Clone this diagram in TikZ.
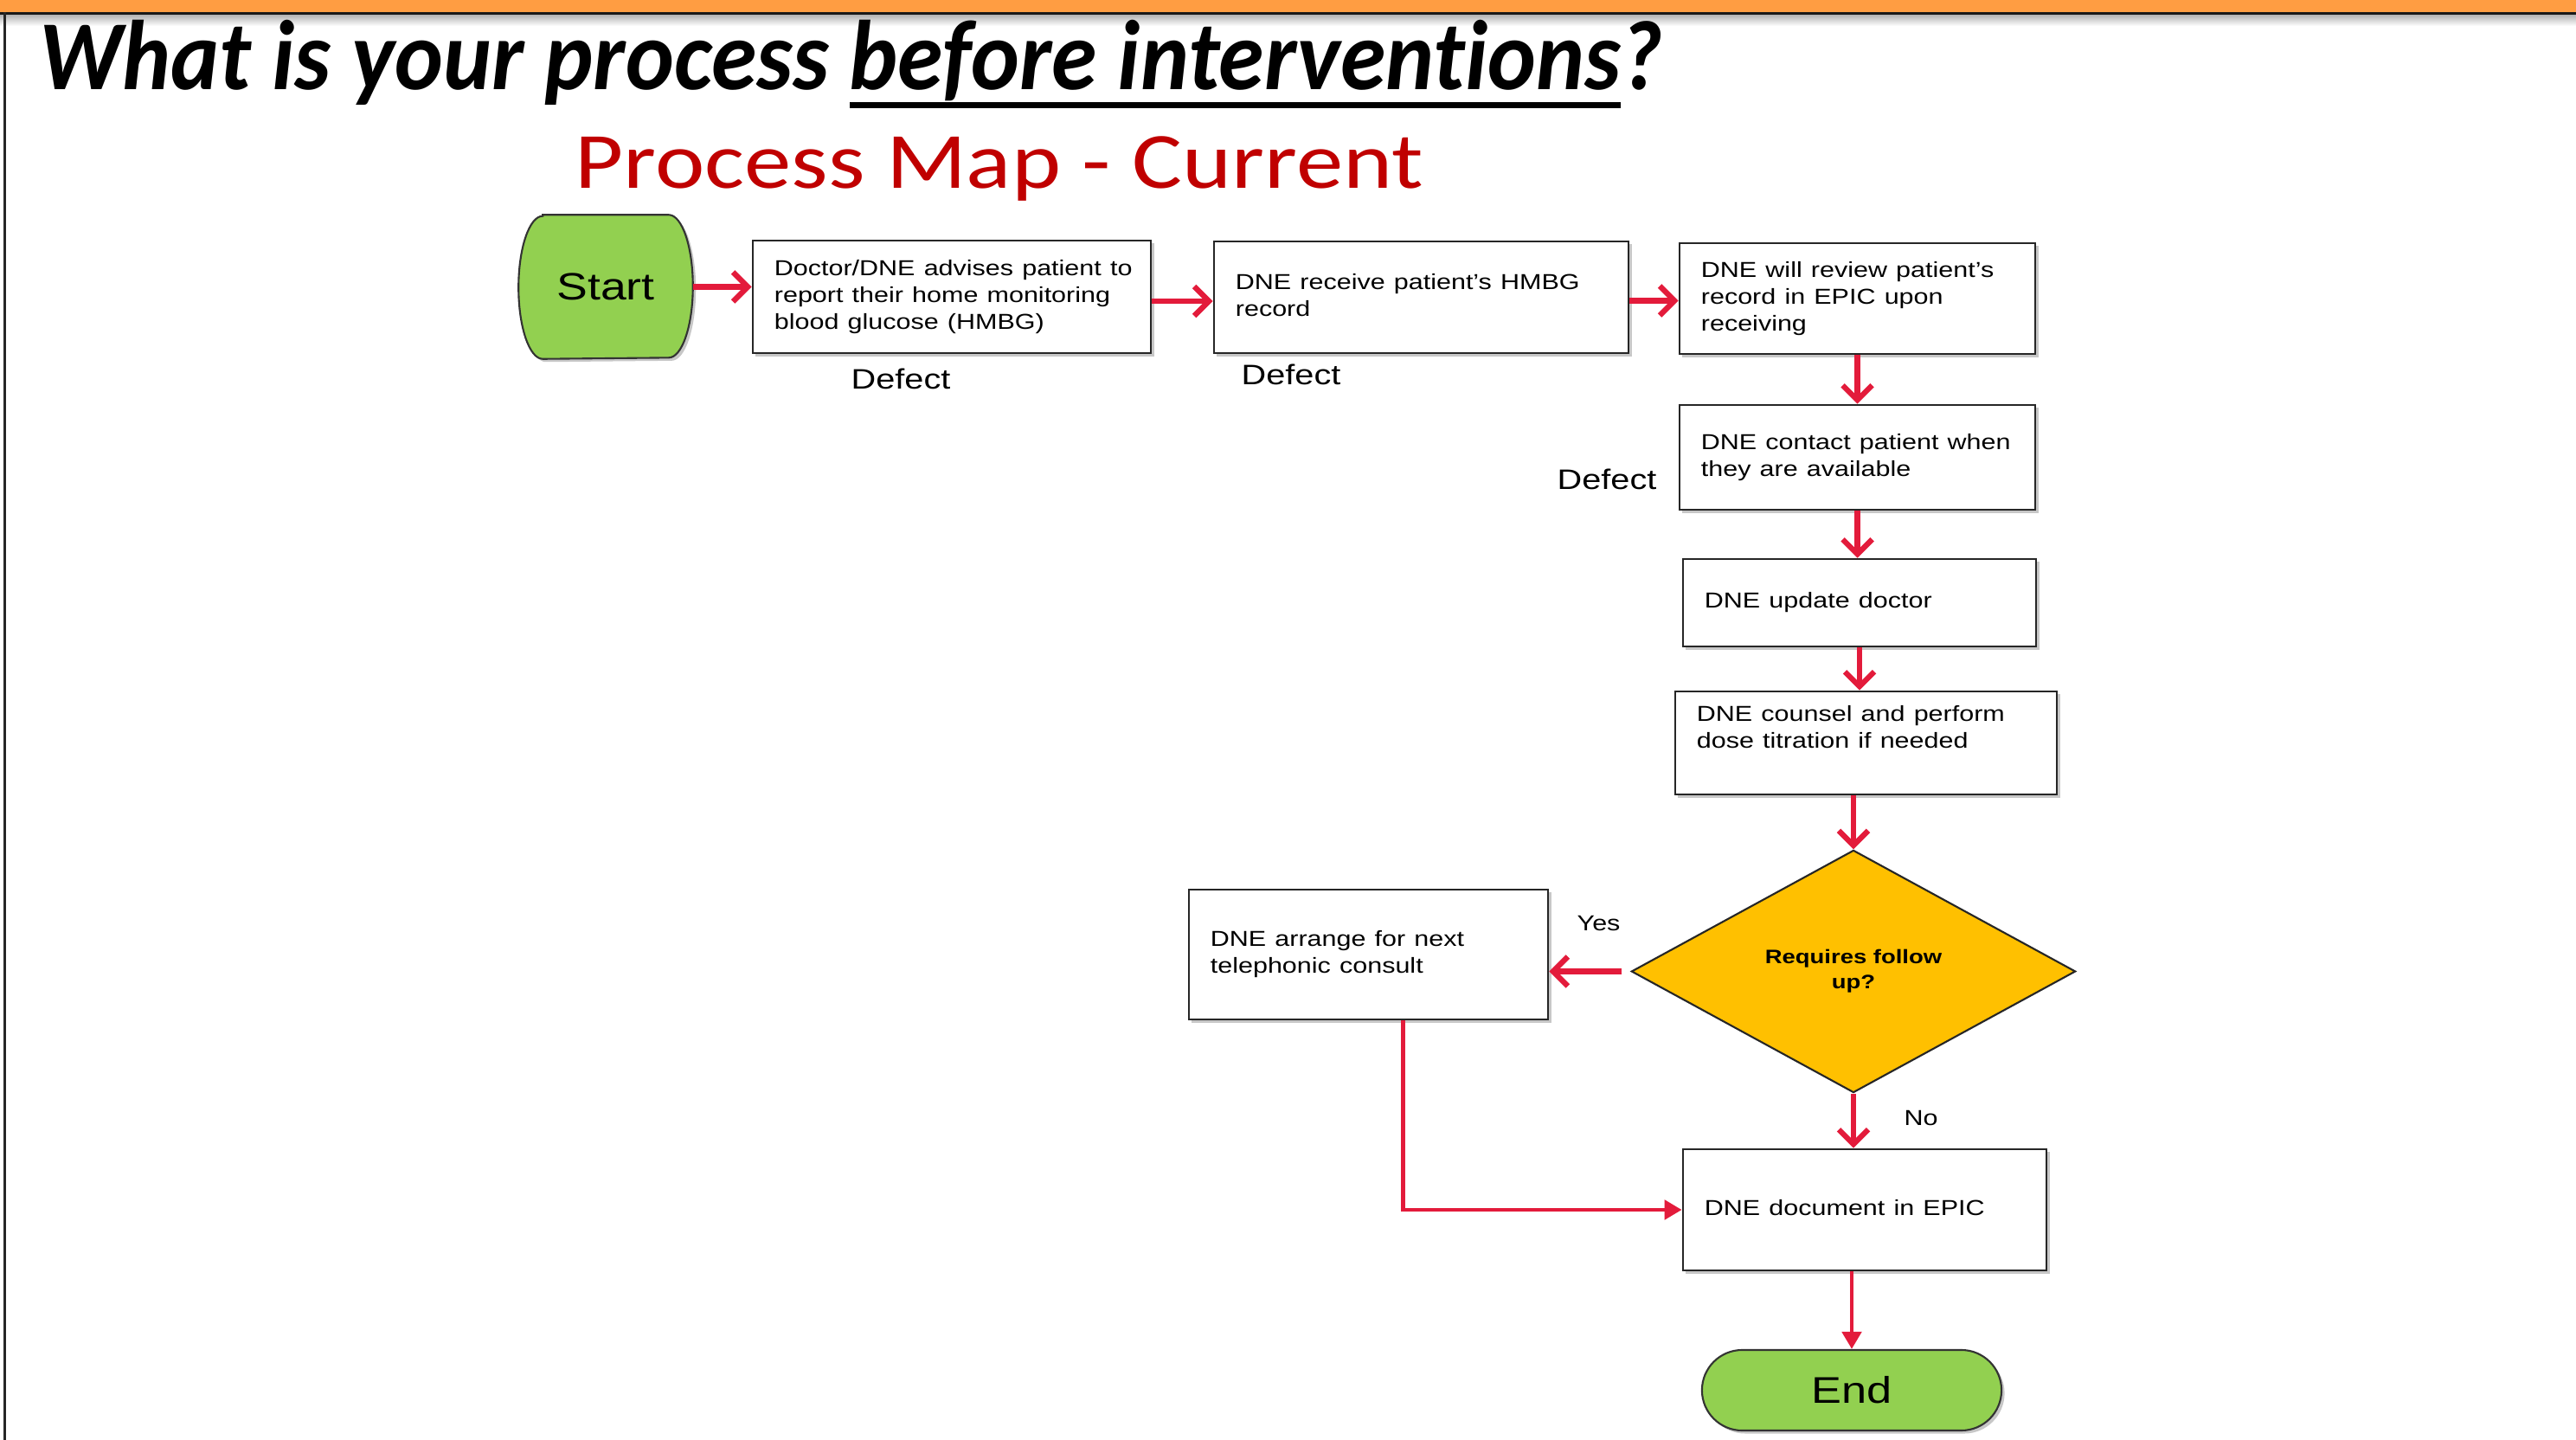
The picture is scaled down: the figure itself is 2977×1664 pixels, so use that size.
\documentclass[tikz,border=0pt]{standalone}
\usepackage{graphicx}
\usepackage{fontspec}
\setmainfont{Liberation Sans}
\newfontfamily\calibri{Carlito}[Ligatures=NoCommon]
\newcommand{\ulb}[1]{\setbox0\hbox{#1}\rlap{\rule[-0.2cm]{\wd0}{0.06cm}}\box0}
\usetikzlibrary{arrows.meta,shapes.geometric,shapes.misc,shadows,backgrounds}
\definecolor{hdrorange}{HTML}{FF9D42}
\definecolor{termgreen}{HTML}{92D050}
\definecolor{decgold}{HTML}{FFC000}
\definecolor{titlered}{HTML}{C00000}
\definecolor{arrowred}{HTML}{E31B3B}
\newcommand{\hs}[1]{\noindent\scalebox{1.22}[1]{\begin{tabular}{@{}l@{}}#1\end{tabular}}}
\newcommand{\hc}[1]{\scalebox{1.22}[1]{\begin{tabular}{@{}c@{}}#1\end{tabular}}}
\tikzset{
  boxshadow/.style={drop shadow={shadow xshift=0.035cm, shadow yshift=-0.035cm, opacity=0.22, fill=black}},
  procbox/.style={draw=black!85, line width=0.7pt, fill=white, rectangle, inner xsep=0.25cm, inner ysep=0pt,
    align=left, font=\fontsize{7.11pt}{8.82pt}\selectfont, boxshadow},
  lbl/.style={anchor=base west, inner sep=0pt, font=\fontsize{7.11pt}{8.82pt}\selectfont},
  defect/.style={anchor=base west, inner sep=0pt, font=\fontsize{9.25pt}{11pt}\selectfont},
  term/.style={draw=black!80, line width=0.6pt, fill=termgreen},
  arr/.style={draw=arrowred, line width=1.8pt, -{Straight Barb[length=0.17cm, width=0.34cm]}},
  tri/.style={draw=arrowred, line width=1.4pt, -{Triangle[length=0.2cm, width=0.22cm]}},
}
\begin{document}
\begin{tikzpicture}[x=0.01cm, y=-0.01cm]
\useasboundingbox (0,0) rectangle (2977,1664);
\begin{scope}[on background layer]
\fill[white] (0,0) rectangle (2977,1664);
\end{scope}
% header
\fill[hdrorange] (0,0) rectangle (2977,14);
\shade[top color=black!30, bottom color=white] (0,17) rectangle (2977,30);
\fill[black!90] (0,14) rectangle (2977,17);
\fill[black!85] (4,14) rectangle (7,1664);
% titles
\node[anchor=base west, inner sep=0pt, font=\fontsize{31.6pt}{36pt}\calibri\bfseries\itshape] (title) at (45,104)
  {\scalebox{0.955}[1.03]{What is your process \ulb{before interventions}?}};
\node[anchor=base west, inner sep=0pt, text=titlered, font=\fontsize{26.2pt}{30pt}\calibri] (subtitle) at (664,218)
  {\scalebox{1.18}[1]{Process Map - Current}};
% start terminator
\node[inner sep=0pt, minimum width=2cm, minimum height=1.65cm, font=\fontsize{12.5pt}{14pt}\selectfont] (start) at (700,331.5)
  {\scalebox{1.22}[1]{Start}};
\begin{scope}[on background layer]
\draw[term, boxshadow] ([xshift=0.28cm]start.north west) -- ([xshift=-0.28cm]start.north east)
  arc[start angle=90, end angle=-90, x radius=0.28cm, y radius=0.825cm]
  -- ([xshift=0.28cm]start.south west)
  arc[start angle=270, end angle=90, x radius=0.28cm, y radius=0.825cm] -- cycle;
\end{scope}
% process boxes
\node[procbox, text width=4.10cm, minimum height=1.30cm] (box1) at (1100,343)
  {\hs{Doctor/DNE advises patient to\\report their home monitoring\\blood glucose (HMBG)}};
\node[procbox, text width=4.29cm, minimum height=1.29cm] (box2) at (1642.5,343.5)
  {\hs{DNE receive patient’s HMBG\\record}};
\node[procbox, text width=3.61cm, minimum height=1.28cm] (box3) at (2146.5,345)
  {\hs{DNE will review patient’s\\record in EPIC upon\\receiving}};
\node[procbox, text width=3.61cm, minimum height=1.21cm] (box4) at (2146.5,528.5)
  {\hs{DNE contact patient when\\they are available}};
\node[procbox, text width=3.58cm, minimum height=1.01cm] (box5) at (2149,696.5)
  {\hs{DNE update doctor}};
\node[procbox, text width=3.91cm, minimum height=1.19cm] (box6) at (2156.5,858.5)
  {\hs{DNE counsel and perform\\dose titration if needed\\\mbox{}}};
\node[diamond, draw=black!85, line width=0.6pt, fill=decgold, inner sep=0pt, minimum width=5.13cm, minimum height=2.80cm,
  font=\fontsize{6.4pt}{8.25pt}\selectfont\bfseries] (dia) at (2142,1122.5)
  {\hc{Requires follow\\up?}};
\node[procbox, text width=3.65cm, minimum height=1.50cm] (box7) at (1581.5,1103)
  {\hs{DNE arrange for next\\telephonic consult}};
\node[procbox, text width=3.70cm, minimum height=1.40cm] (box8) at (2155,1398)
  {\hs{DNE document in EPIC}};
\node[rounded rectangle, term, boxshadow, inner sep=0pt, minimum width=3.46cm, minimum height=0.93cm,
  font=\fontsize{12.2pt}{14pt}\selectfont] (stop) at (2140,1606.5)
  {\scalebox{1.22}[1]{End}};
% labels
\node[defect] (d1) at (983,450) {\scalebox{1.22}[1]{Defect}};
\node[defect] (d2) at (1434,445) {\scalebox{1.22}[1]{Defect}};
\node[defect] (d3) at (1799,566) {\scalebox{1.22}[1]{Defect}};
\node[lbl] (yes) at (1822,1075) {\scalebox{1.22}[1]{Yes}};
\node[lbl] (no) at (2200,1300) {\scalebox{1.22}[1]{No}};
% connectors
\draw[arr] (start.east) -- (start.east -| box1.west);
\draw[arr] ([yshift=-0.05cm]box1.east) -- ([yshift=-0.05cm]box1.east -| box2.west);
\draw[arr] ([yshift=-0.04cm]box2.east) -- ([yshift=-0.04cm]box2.east -| box3.west);
\draw[arr] (box3.south) -- (box3.south |- box4.north);
\draw[arr] (box4.south) -- (box4.south |- box5.north);
\draw[arr] (box5.south) -- (box5.south |- box6.north);
\draw[arr] (dia.north |- box6.south) -- (dia.north);
\draw[arr] ([xshift=-0.1cm]dia.west) -- (dia.west -| box7.east);
\draw[arr] (dia.south) -- (dia.south |- box8.north);
\draw[tri] (stop.north |- box8.south) -- (stop.north);
\draw[tri] ([xshift=0.4cm]box7.south) |- (box8.west);
\end{tikzpicture}
\end{document}
